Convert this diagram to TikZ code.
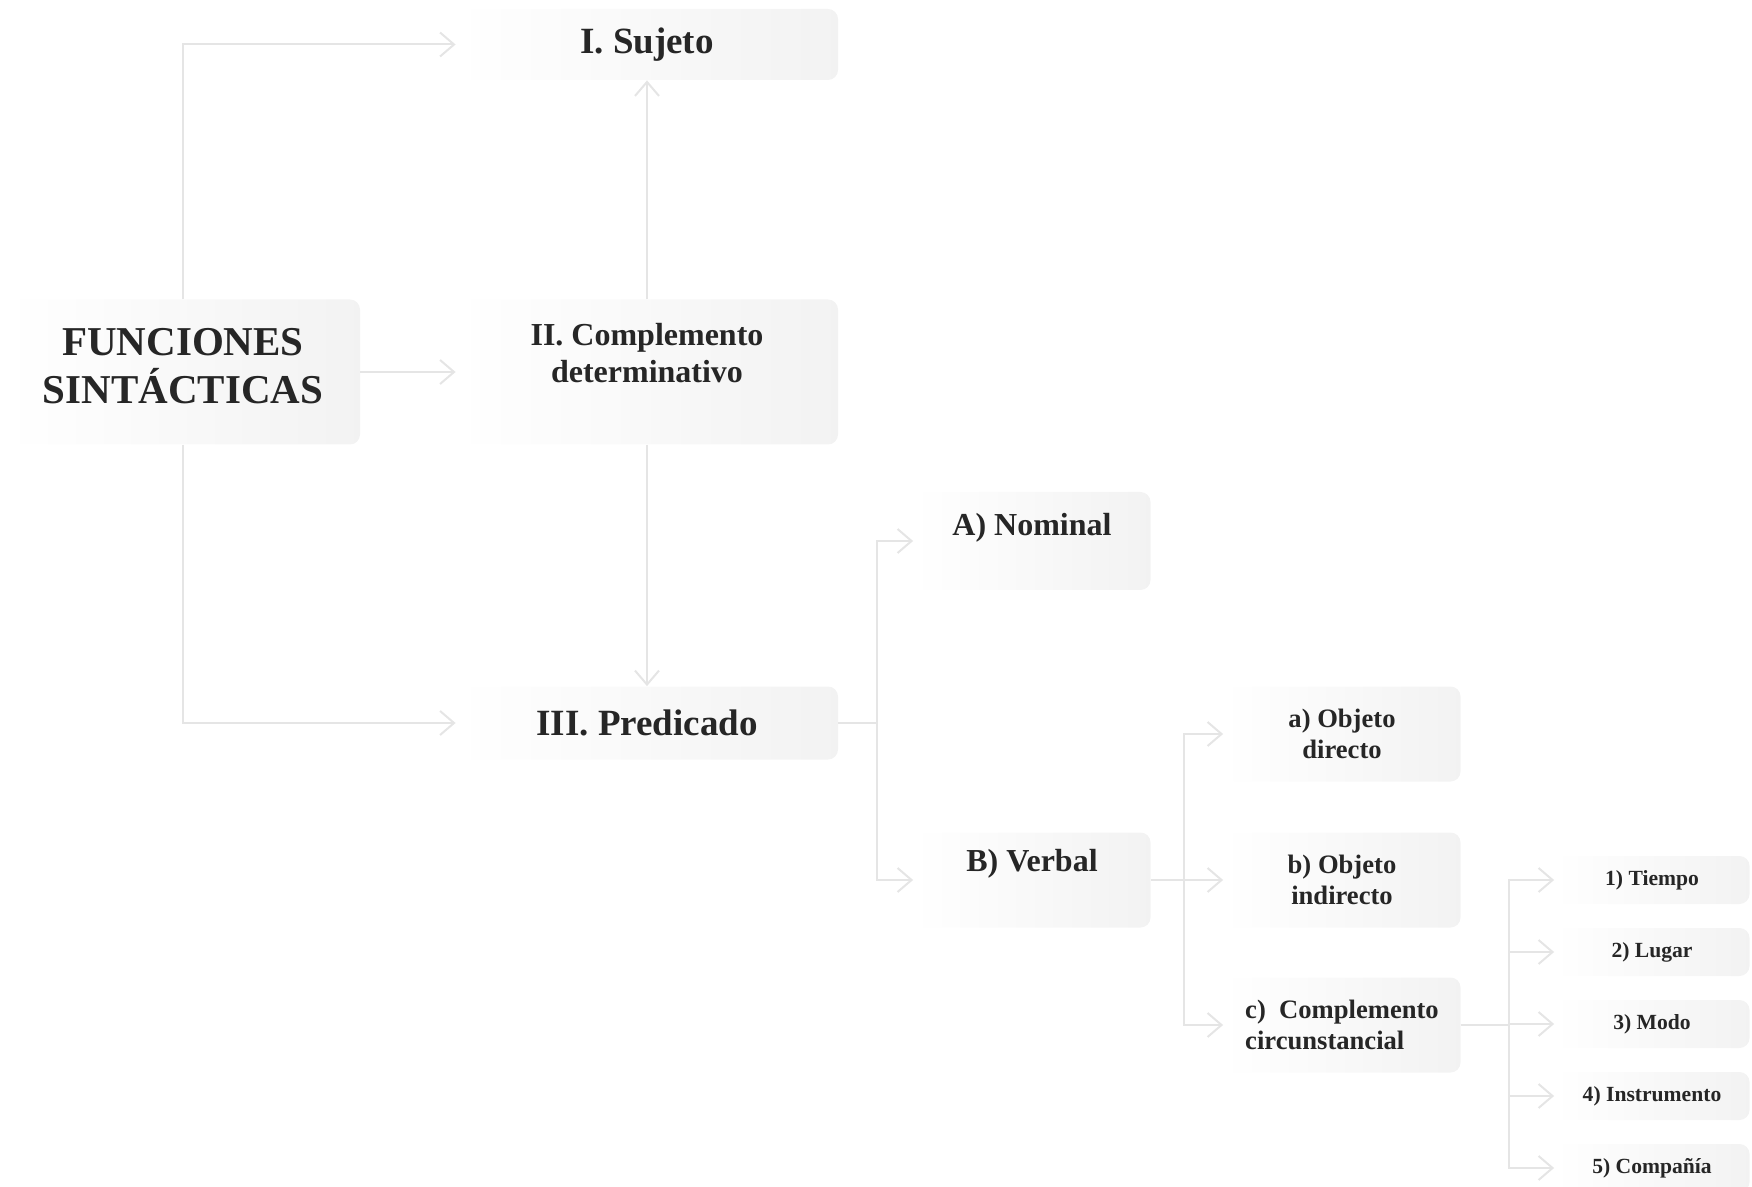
\documentclass[tikz,border=0pt]{standalone}
\usepackage{fontspec}
\setmainfont{Liberation Serif}
\usetikzlibrary{arrows.meta}
\begin{document}
\begin{tikzpicture}[x=0.5pt,y=-0.5pt,
  box/.style={rounded corners=5pt, left color=white, right color=black!5, draw=none, inner sep=0pt},
  lbl/.style={text=black!85, align=center, inner sep=0pt},
  conn/.style={draw=black!10, line width=1pt},
  arr/.style={conn, -{Straight Barb[length=7pt,width=12pt]}},
  fA/.style={font=\bfseries\fontsize{20.5}{24}\selectfont},
  fB/.style={font=\bfseries\fontsize{18.5}{22}\selectfont},
  fC/.style={font=\bfseries\fontsize{16}{18.5}\selectfont},
  fD/.style={font=\bfseries\fontsize{13.3}{15.6}\selectfont},
  fE/.style={font=\bfseries\fontsize{10.8}{13}\selectfont}
]
\useasboundingbox (0,0) rectangle (1752,1187);

% level 0/1
\node[box, minimum width=191pt, minimum height=35.5pt,
  label={[lbl,fB,name=sujT]center:I. Sujeto}] (suj) at (647,44.5) {};
\node[box, minimum width=177pt, minimum height=72.5pt,
  label={[lbl,fA,yshift=3pt,name=funcT]center:FUNCIONES\\SINTÁCTICAS}] (func) at (183,372) {};
\node[box, minimum width=191pt, minimum height=72.5pt,
  label={[lbl,fC,yshift=9.5pt,name=iiT]center:II. Complemento\\determinativo}] (ii) at (647,372) {};
\node[box, minimum width=191pt, minimum height=36.5pt,
  label={[lbl,fB,name=iiiT]center:III. Predicado}] (iii) at (647,723) {};

% level 2
\node[box, minimum width=118.5pt, minimum height=49pt,
  label={[lbl,fC,yshift=6.5pt,name=nomT]center:A) Nominal}] (nom) at (1032,541) {};
\node[box, minimum width=118.5pt, minimum height=47.5pt,
  label={[lbl,fC,yshift=8pt,name=verT]center:B) Verbal}] (ver) at (1032,880) {};

% level 3
\node[box, minimum width=118.5pt, minimum height=47.5pt,
  label={[lbl,fD,name=odT]center:a) Objeto\\directo}] (od) at (1342,734) {};
\node[box, minimum width=118.5pt, minimum height=47.5pt,
  label={[lbl,fD,name=oiT]center:b) Objeto\\indirecto}] (oi) at (1342,880) {};
\node[box, minimum width=118.5pt, minimum height=47.5pt,
  label={[lbl,fD,align=left,name=ccT]center:c)\ \ Complemento\\circunstancial}] (cc) at (1342,1025) {};

% level 4
\node[box, minimum width=97.5pt, minimum height=24pt,
  label={[lbl,fE,name=n1T]center:1) Tiempo}] (n1) at (1652,880) {};
\node[box, minimum width=97.5pt, minimum height=24pt,
  label={[lbl,fE,name=n2T]center:2) Lugar}] (n2) at (1652,952) {};
\node[box, minimum width=97.5pt, minimum height=24pt,
  label={[lbl,fE,name=n3T]center:3) Modo}] (n3) at (1652,1024) {};
\node[box, minimum width=97.5pt, minimum height=24pt,
  label={[lbl,fE,name=n4T]center:4) Instrumento}] (n4) at (1652,1096) {};
\node[box, minimum width=97.5pt, minimum height=24pt,
  label={[lbl,fE,name=n5T]center:5) Compañía}] (n5) at (1652,1168) {};

% connectors
\draw[arr] (func.north) |- (suj.west);
\draw[arr] (func.east) -- (ii.west);
\draw[arr] (ii.north) -- (suj.south);
\draw[arr] (ii.south) -- (iii.north);
\draw[arr] (func.south) |- (iii.west);

\draw[conn] (iii.east) -- ++(39,0) coordinate (j1);
\draw[arr] (j1) |- (nom.west);
\draw[arr] (j1) |- (ver.west);

\draw[conn] (ver.east) -- ++(33,0) coordinate (j2);
\draw[arr] (j2) |- (od.west);
\draw[arr] (j2) |- (oi.west);
\draw[arr] (j2) |- (cc.west);

\draw[conn] (cc.east) -- ++(48,0) coordinate (j3);
\draw[arr] (j3) |- (n1.west);
\draw[arr] (j3) |- (n2.west);
\draw[arr] (j3) |- (n3.west);
\draw[arr] (j3) |- (n4.west);
\draw[arr] (j3) |- (n5.west);
\end{tikzpicture}
\end{document}
